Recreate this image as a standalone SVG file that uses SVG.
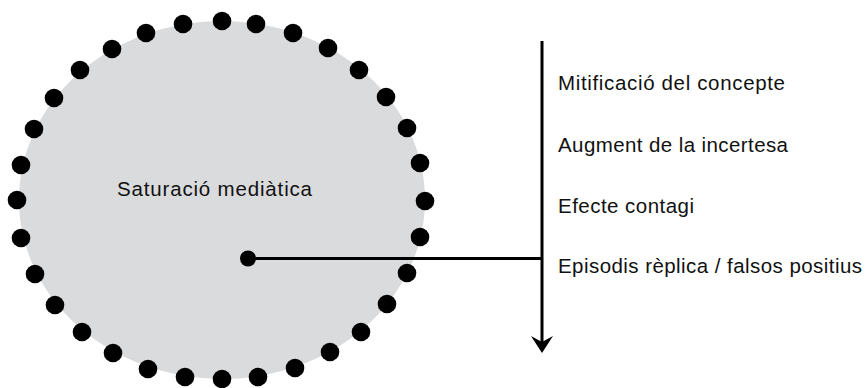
<svg xmlns="http://www.w3.org/2000/svg" width="866" height="388" viewBox="0 0 866 388">
<defs>
<style>
.lbl{font-family:"Liberation Sans",Arial,sans-serif;font-size:20.5px;fill:#111;}
.dot{fill:#000;}
.ln{stroke:#000;stroke-width:3;fill:none;}
</style>
<marker id="ah" markerUnits="userSpaceOnUse" markerWidth="17" markerHeight="22" refX="6" refY="11" orient="auto" viewBox="0 0 17 22">
<path d="M0 0 L17 11 L0 22 L6 11 Z" fill="#000"/>
</marker>
</defs>
<rect width="866" height="388" fill="#fff"/>
<g id="saturacio">
<ellipse cx="222" cy="200" rx="203" ry="179" fill="#dadbdd"/>
<g class="dot">
<circle cx="183" cy="24" r="9.3"/><circle cx="222" cy="21" r="9.3"/><circle cx="256" cy="24" r="9.3"/>
<circle cx="293" cy="33" r="9.3"/><circle cx="328" cy="48" r="9.3"/><circle cx="359" cy="70" r="9.3"/>
<circle cx="386" cy="97" r="9.3"/><circle cx="407" cy="128" r="9.3"/><circle cx="420" cy="163" r="9.3"/>
<circle cx="425" cy="201" r="9.3"/><circle cx="420" cy="237" r="9.3"/><circle cx="407" cy="273" r="9.3"/>
<circle cx="387" cy="304" r="9.3"/><circle cx="361" cy="332" r="9.3"/><circle cx="330" cy="352" r="9.3"/>
<circle cx="295" cy="368" r="9.3"/><circle cx="258" cy="377" r="9.3"/><circle cx="222" cy="379" r="9.3"/>
<circle cx="185" cy="377" r="9.3"/><circle cx="148" cy="369" r="9.3"/><circle cx="113" cy="353" r="9.3"/>
<circle cx="82" cy="332" r="9.3"/><circle cx="55" cy="305" r="9.3"/><circle cx="35" cy="274" r="9.3"/>
<circle cx="21" cy="238" r="9.3"/><circle cx="17" cy="200" r="9.3"/><circle cx="21" cy="165" r="9.3"/>
<circle cx="34" cy="129" r="9.3"/><circle cx="54" cy="98" r="9.3"/><circle cx="80" cy="70" r="9.3"/>
<circle cx="112" cy="49" r="9.3"/><circle cx="146" cy="33" r="9.3"/>
</g>
<text class="lbl" x="117" y="196" textLength="195">Saturació mediàtica</text>
</g>
<g id="connectors">
<circle cx="248" cy="258.5" r="8" fill="#000"/>
<line class="ln" x1="248" y1="258.5" x2="542" y2="258.5"/>
<line class="ln" x1="542" y1="41" x2="542" y2="342" marker-end="url(#ah)"/>
</g>
<g id="etapes">
<text class="lbl" x="558" y="90" textLength="227">Mitificació del concepte</text>
<text class="lbl" x="558" y="152" textLength="230">Augment de la incertesa</text>
<text class="lbl" x="558" y="213" textLength="136">Efecte contagi</text>
<text class="lbl" x="558" y="273" textLength="304">Episodis rèplica / falsos positius</text>
</g>
</svg>
